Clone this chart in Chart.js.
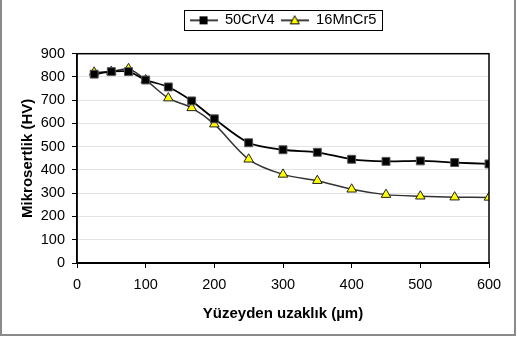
<!DOCTYPE html>
<html>
<head>
<meta charset="utf-8">
<script src="https://cdn.jsdelivr.net/npm/chart.js@4"></script>
<style>
  html, body { margin: 0; padding: 0; background: #fff; }
  #wrap { width: 517px; height: 338px; position: relative; }
</style>
</head>
<body>
<div id="wrap"><canvas id="chart_mikrosertlik"></canvas></div>
<script>
// distance from surface (um)
var distances = [25, 50, 75, 100, 133, 167, 200, 250, 300, 350, 400, 450, 500, 550, 600];
var hv50CrV4 = [812, 823, 823, 787, 757, 697, 620, 517, 487, 476, 446, 437, 439, 432, 426];
var hv16MnCr5 = [820, 823, 835, 787, 709, 667, 597, 446, 381, 354, 317, 294, 287, 283, 282];
var seriesNames = ['50CrV4', '16MnCr5'];
var yTicks = [0, 100, 200, 300, 400, 500, 600, 700, 800, 900];
var xTicks = [0, 100, 200, 300, 400, 500, 600];

function toPoints(xs, ys) {
    return xs.map(function (x, i) { return {x: x, y: ys[i]}; });
}

// small legend glyph: line with marker in the middle
function legendGlyph(kind) {
    var c = document.createElement('canvas');
    c.width = 28; c.height = 12;
    var g = c.getContext('2d');
    g.strokeStyle = '#000';
    g.lineWidth = 1.5;
    g.beginPath(); g.moveTo(0, 6); g.lineTo(28, 6); g.stroke();
    if (kind === 'rect') {
        g.fillStyle = '#000';
        g.fillRect(10, 2, 8, 8);
    } else {
        g.fillStyle = '#ffff00';
        g.lineWidth = 1;
        g.beginPath(); g.moveTo(14, 1.5); g.lineTo(18.5, 9.5); g.lineTo(9.5, 9.5); g.closePath();
        g.fill(); g.stroke();
    }
    return c;
}
var glyphs = [legendGlyph('rect'), legendGlyph('triangle')];

var chart_mikrosertlik = new Chart(document.getElementById('chart_mikrosertlik'), {
    type: 'line',
    data: {
        datasets: [
            {
                label: seriesNames[0],
                data: toPoints(distances, hv50CrV4),
                borderColor: '#000000',
                borderWidth: 1.8,
                backgroundColor: '#000000',
                pointStyle: 'rect',
                pointRadius: 5.6,
                pointBorderColor: '#555555',
                pointBorderWidth: 1,
                tension: 0.3
            },
            {
                label: seriesNames[1],
                data: toPoints(distances, hv16MnCr5),
                borderColor: '#333333',
                borderWidth: 1.5,
                backgroundColor: '#ffff00',
                pointStyle: 'triangle',
                pointRadius: 5.5,
                pointBorderColor: '#222222',
                pointBorderWidth: 1,
                tension: 0.3
            }
        ]
    },
    options: {
        animation: false,
        responsive: true,
        maintainAspectRatio: false,
        layout: {
            padding: {left: 0, right: 28, top: 7, bottom: 15}
        },
        plugins: {
            legend: {
                display: true,
                position: 'top',
                fullSize: false,
                labels: {
                    usePointStyle: true,
                    pointStyleWidth: 28,
                    padding: 6,
                    color: '#000',
                    font: {family: 'Liberation Sans, Arial', size: 14.7},
                    generateLabels: function (chart) {
                        var items = Chart.defaults.plugins.legend.labels.generateLabels(chart);
                        items.forEach(function (it, i) { it.pointStyle = glyphs[i]; });
                        return items;
                    }
                }
            },
            tooltip: {enabled: false}
        },
        scales: {
            x: {
                type: 'linear',
                min: 0,
                max: 600,
                afterBuildTicks: function (axis) {
                    axis.ticks = xTicks.map(function (v) { return {value: v}; });
                },
                ticks: {
                    color: '#000',
                    padding: 8,
                    maxRotation: 0,
                    font: {family: 'Liberation Sans, Arial', size: 14.5}
                },
                grid: {
                    display: true,
                    drawOnChartArea: false,
                    drawTicks: true,
                    tickLength: 5,
                    color: '#000'
                },
                border: {color: '#000', width: 1.5},
                title: {
                    display: true,
                    text: 'Yüzeyden uzaklık (µm)',
                    color: '#000',
                    font: {family: 'Liberation Sans, Arial', size: 15, weight: 'bold'},
                    padding: {top: 4, bottom: 0}
                },
                afterFit: function (axis) { axis.height = 338 - 15 - 263; }
            },
            // spacer between legend and plot area
            xTop: {
                type: 'linear',
                position: 'top',
                display: true,
                min: 0,
                max: 600,
                grid: {display: false},
                border: {display: false},
                ticks: {display: false},
                afterFit: function (axis) { axis.height = 16; }
            },
            y: {
                type: 'linear',
                min: 0,
                max: 900,
                afterBuildTicks: function (axis) {
                    axis.ticks = yTicks.map(function (v) { return {value: v}; });
                },
                ticks: {
                    color: '#000',
                    padding: 7,
                    font: {family: 'Liberation Sans, Arial', size: 14.5}
                },
                grid: {
                    color: function (ctx) { return ctx.tick && ctx.tick.value === 0 ? '#000' : '#e3e3e3'; },
                    tickColor: '#000',
                    tickLength: 5,
                    lineWidth: 1
                },
                border: {color: '#000', width: 1.5},
                title: {
                    display: true,
                    text: 'Mikrosertlik (HV)',
                    color: '#000',
                    font: {family: 'Liberation Sans, Arial', size: 15, weight: 'bold'},
                    padding: {top: 19, bottom: 4}
                },
                afterFit: function (axis) { axis.width = 77; }
            }
        }
    },
    plugins: [{
        id: 'frames',
        beforeDraw: function (chart) {
            var ctx = chart.ctx;
            ctx.save();
            ctx.fillStyle = 'white';
            ctx.fillRect(0, 0, chart.width, chart.height);
            ctx.restore();
        },
        afterDraw: function (chart) {
            var ctx = chart.ctx;
            var a = chart.chartArea;
            ctx.save();
            // plot area box
            ctx.strokeStyle = '#000';
            ctx.lineWidth = 1.5;
            ctx.strokeRect(a.left, a.top, a.right - a.left, a.bottom - a.top);
            // legend box
            var hb = chart.legend.legendHitBoxes;
            if (hb && hb.length) {
                var l = hb[0].left - 6;
                var r = hb[hb.length - 1].left + hb[hb.length - 1].width + 5;
                var t = hb[0].top - 3;
                var b = hb[0].top + hb[0].height + 2;
                ctx.lineWidth = 1;
                ctx.strokeRect(Math.round(l) + 0.5, Math.round(t) + 0.5, Math.round(r - l), Math.round(b - t));
            }
            // outer chart frame (no top edge)
            ctx.strokeStyle = '#8a8a8a';
            ctx.lineWidth = 2;
            ctx.beginPath();
            ctx.moveTo(1, 0);
            ctx.lineTo(1, 335);
            ctx.lineTo(515, 335);
            ctx.lineTo(515, 0);
            ctx.stroke();
            ctx.restore();
        }
    }]
});
</script>
</body>
</html>
